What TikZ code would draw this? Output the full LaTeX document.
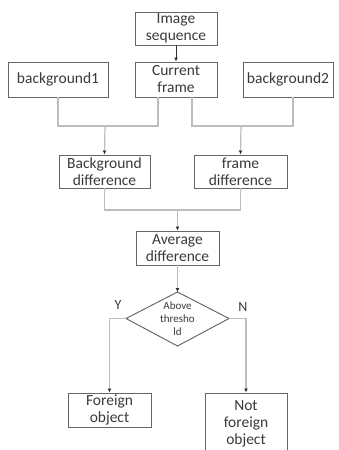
\documentclass[tikz,border=0pt]{standalone}
\usepackage{fontspec}
\setmainfont{Carlito}
\usetikzlibrary{arrows.meta}
\definecolor{txt}{HTML}{3A3A3A}
\definecolor{boxc}{HTML}{666666}
\definecolor{linec}{HTML}{BDBDBD}
\definecolor{tipc}{HTML}{333333}
\begin{document}
\begin{tikzpicture}[x=1pt,y=-1pt,
  box/.style={draw=boxc,line width=0.95pt,inner sep=0pt,align=center,text=txt,
    font=\fontsize{15.5}{17}\selectfont},
  conn/.style={draw=linec,line width=1.2pt},
  arr/.style={conn,-{Latex[length=4pt,width=4pt,color=tipc]}},
  lbl/.style={text=txt,font=\fontsize{14}{16}\selectfont,inner sep=0pt}]
\useasboundingbox (0,0) rectangle (338,450);
\clip (0,0) rectangle (338,450);
\fill[white] (0,0) rectangle (338,450);
\node[box,minimum width=82pt,minimum height=33pt] (seq) at (176,28.5) {Image\\sequence};
\node[box,minimum width=82pt,minimum height=35pt] (cur) at (176,79.5) {Current\\frame};
\node[box,minimum width=100pt,minimum height=35pt] (bg1) at (58,79.5) {background1};
\node[box,minimum width=90pt,minimum height=35pt] (bg2) at (288,79.5) {background2};
\node[box,minimum width=91pt,minimum height=33pt] (bgd) at (104.5,171.5) {Background\\difference};
\node[box,minimum width=93pt,minimum height=33pt] (frd) at (240.5,171.5) {frame\\difference};
\node[box,minimum width=83pt,minimum height=34pt] (avg) at (177.5,248) {Average\\difference};
\coordinate (dt) at (177.5,292);
\coordinate (db) at (177.5,346);
\coordinate (dl) at (126,318.5);
\coordinate (dr) at (229,318.5);
\draw[draw=boxc,line width=0.95pt,fill=white] (dt) -- (dr) -- (db) -- (dl) -- cycle;
\node[text=txt,align=center,inner sep=0pt,font=\fontsize{11}{13}\selectfont] (dia) at (177.5,319) {Above\\thresho\\ld};
\node[box,minimum width=83pt,minimum height=34pt] (fo) at (109.5,410) {Foreign\\object};
\node[box,minimum width=82pt,minimum height=62pt] (nfo) at (246,424) {Not\\foreign\\object};
\node[lbl] (ylab) at (118,305) {Y};
\node[lbl] (nlab) at (243,307) {N};
\coordinate (j1) at (105,126);
\coordinate (j2) at (241,126);
\coordinate (j3) at (177.5,210);
\draw[draw=tipc,line width=0.8pt,-{Latex[length=4pt,width=4pt]}] (seq.south) -- (cur.north);
\draw[conn] (bg1.south) |- (j1) -| ([xshift=-18pt]cur.south);
\draw[conn] ([xshift=16pt]cur.south) |- (j2) -| ([xshift=5pt]bg2.south);
\draw[arr] (j1) -- (bgd.north);
\draw[arr] (j2) -- (frd.north);
\draw[conn] (bgd.south) |- (j3) -| (frd.south);
\draw[arr] (j3) -- (avg.north);
\draw[arr] (avg.south) -- (dt);
\draw[arr] (dl) -| (fo.north);
\draw[arr] (dr) -| (nfo.north);
\end{tikzpicture}
\end{document}
